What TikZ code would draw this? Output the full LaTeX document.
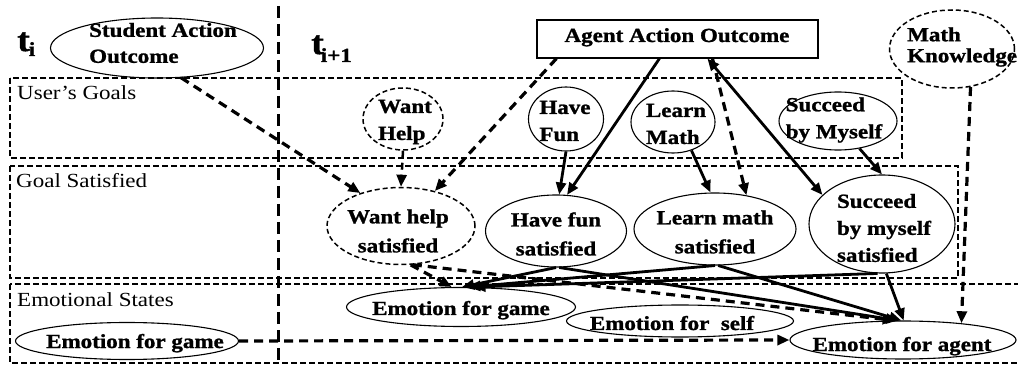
\documentclass[tikz,border=0pt]{standalone}
\usepackage{fontspec}
\setmainfont{Liberation Serif}[FakeStretch=1.15, BoldFeatures={FakeBold=1.2}]
\usetikzlibrary{shapes.geometric,arrows.meta,calc}
\begin{document}
\begin{tikzpicture}[x=1pt,y=-1pt,
  ell/.style={ellipse, draw, line width=1.1pt, inner sep=0pt},
  dell/.style={ellipse, draw, line width=1.5pt, dash pattern=on 5pt off 3pt, inner sep=0pt},
  btxt/.style={font=\bfseries\fontsize{20}{27}\selectfont, inner sep=0pt},
  rtxt/.style={font=\fontsize{20}{24}\selectfont, inner sep=0pt, anchor=base west},
  tip/.style={-{Triangle[length=12pt,width=10pt]}},
  sol/.style={line width=2.8pt, tip},
  dsh/.style={line width=3.2pt, dash pattern=on 9pt off 6pt, tip},
  region/.style={draw, line width=1.3pt, dash pattern=on 6pt off 3pt},
  sepline/.style={line width=3pt, dash pattern=on 12pt off 6pt}]
\clip (0,0) rectangle (1018,366);
% regions
\draw[region] (10,78) rectangle (902,158);
\draw[region] (10,166) rectangle (958,278);
\draw[region] (10,284) rectangle (1030,363);
\node[rtxt] (lug) at (17,100) {User’s Goals};
\node[rtxt] (lgs) at (16,188) {Goal Satisfied};
\node[rtxt] (les) at (17,307) {Emotional States};
% separator
\draw[sepline] (278,6) -- (278,366);
% time labels
\node[anchor=base west, inner sep=0pt, font=\bfseries\fontsize{33}{33}\selectfont] (ti) at (17,51)
  {t\kern-1pt\raisebox{-5pt}{\fontsize{20}{20}\selectfont i}};
\node[anchor=base west, inner sep=0pt, font=\bfseries\fontsize{33}{33}\selectfont] (ti1) at (311,54)
  {t\kern-3pt\raisebox{-8pt}{\fontsize{20}{20}\selectfont i+1}};
% shapes
\node[ell, minimum width=213pt, minimum height=60pt] (sao) at (157,48) {};
\node[draw, rectangle, line width=1.1pt, minimum width=281pt, minimum height=38pt, inner sep=0pt] (aao) at (677.5,39) {};
\node[dell, minimum width=125pt, minimum height=78pt] (mk) at (952,49) {};
\node[dell, minimum width=80pt, minimum height=62pt] (wh) at (403,119) {};
\node[ell, minimum width=75pt, minimum height=64pt] (hf) at (566,119) {};
\node[ell, minimum width=84pt, minimum height=62pt] (lm) at (673,122) {};
\node[ell, minimum width=118pt, minimum height=58pt] (sm) at (838,121) {};
\node[dell, minimum width=148pt, minimum height=77pt] (whs) at (401,226) {};
\node[ell, minimum width=141pt, minimum height=72pt] (hfs) at (556,231) {};
\node[ell, minimum width=162pt, minimum height=72pt] (lms) at (715,229) {};
\node[ell, minimum width=146pt, minimum height=98pt] (sms) at (882,224) {};
\node[ell, minimum width=229pt, minimum height=39pt] (eg) at (461,307) {};
\node[ell, minimum width=227pt, minimum height=32pt] (es) at (680,321) {};
\node[ell, minimum width=226pt, minimum height=38pt] (ea) at (903,340) {};
\node[ell, minimum width=223pt, minimum height=37pt] (eg2) at (127,341) {};
% texts
\node[btxt, align=left, font=\bfseries\fontsize{20}{26}\selectfont] (saot) at (163,43) {Student Action\\Outcome};
\node[btxt, anchor=base] (aaot) at (677,42) {Agent Action Outcome};
\node[btxt, align=left, font=\bfseries\fontsize{20}{21}\selectfont, anchor=west] (mkt) at (907,47) {Math\\Knowledge};
\node[btxt, align=left] (wht) at (405,122) {Want\\Help};
\node[btxt, align=left] (hft) at (565,121) {Have\\Fun};
\node[btxt, align=left] (lmt) at (676,124) {Learn\\Math};
\node[btxt, align=left] (smt) at (834,120) {Succeed\\by Myself};
\node[btxt, align=center, font=\bfseries\fontsize{20}{29}\selectfont] (whst) at (398,231) {Want help\\satisfied};
\node[btxt, align=center, font=\bfseries\fontsize{20}{29}\selectfont] (hfst) at (556,234) {Have fun\\satisfied};
\node[btxt, align=center, font=\bfseries\fontsize{20}{29}\selectfont] (lmst) at (715,232) {Learn math\\satisfied};
\node[btxt, align=left] (smst) at (884,228) {Succeed\\by myself\\satisfied};
\node[btxt, anchor=base] (egt) at (461,315) {Emotion for game};
\node[btxt, anchor=base] (est) at (672,330) {Emotion for\ \ self};
\node[btxt, anchor=base] (eat) at (902,351) {Emotion for agent};
\node[btxt, anchor=base] (eg2t) at (135,348) {Emotion for game};
% connectors: inputs to goal satisfied
\draw[dsh] (sao.-51.6) -- (whs.141.7);
\draw[dsh, line width=2.5pt, dash pattern=on 7pt off 5pt] (wh.south) -- (whs.north);
\draw[dsh] ($(aao.south west)+(20,0)$) -- (whs.46.7);
\draw[sol] ($(aao.south west)+(123,0)$) -- (hfs.73.4);
\draw[sol] (hf.south) -- (hfs.85);
\draw[sol] (lm.-57) -- (lms.97.9);
\draw[dsh] ($(aao.south west)+(176,0)$) -- (lms.47.6);
\draw[sol, {Triangle[length=12pt,width=10pt]}-{Triangle[length=12pt,width=10pt]}] ($(aao.south west)+(171,0)$) -- (sms.154.6);
\draw[sol] (sm.-52.8) -- (sms.north);
% goal satisfied to emotions
\draw[dsh] (whs.-76.7) -- (eg.115);
\draw[dsh] (whs.-73) -- (ea.113);
\draw[sol] (hfs.south) -- (eg.87);
\draw[sol] (hfs.-85) -- (ea.104);
\draw[sol] (lms.south) -- (eg.70);
\draw[sol] (lms.-85) -- (ea.95);
\draw[sol] (sms.-95) -- (eg.58);
\draw[sol] (sms.-85) -- (ea.88);
% other
\draw[dsh] (mk.-64) -- (ea.16);
\draw[dsh] (eg2.east) -- (ea.west);
\end{tikzpicture}
\end{document}
